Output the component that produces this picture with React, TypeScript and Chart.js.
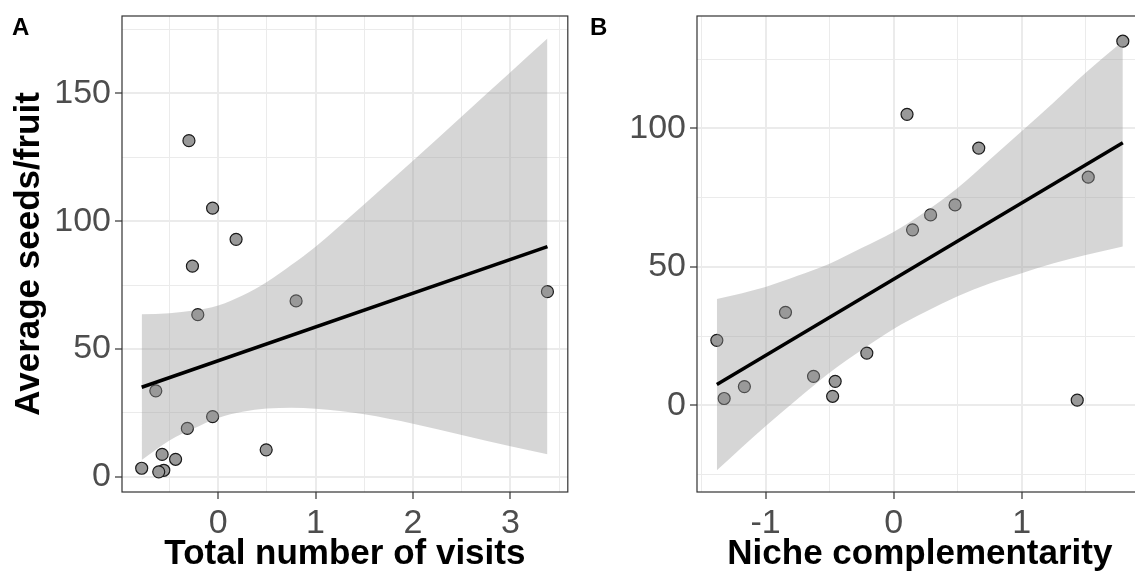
import React, { useEffect, useRef } from 'react';
import { Chart, registerables } from 'chart.js';

Chart.register(...registerables);

const FONT = "'Liberation Sans', Arial, Helvetica, sans-serif";

// ---- data ----
const seeds = [131.5, 105.1, 92.9, 82.4, 68.8, 72.4, 63.4, 33.6, 23.5, 18.9, 10.5, 8.7, 6.8, 3.3, 2.5, 1.9];
const visits = [-0.3, -0.057, 0.184, -0.264, 0.8, 3.38, -0.209, -0.64, -0.057, -0.316, 0.493, -0.575, -0.437, -0.785, -0.558, -0.61];
const niche = [1.79, 0.105, 0.665, 1.52, 0.289, 0.48, 0.148, -0.844, -1.38, -0.209, -0.625, -0.456, -1.165, -0.476, -1.323, 1.434];

const fitXA = [-0.785, 3.38];
const fitYA = [35.0, 90.0];
const ribbonXA = [-0.785, -0.5, -0.25, 0, 0.25, 0.5, 0.75, 1, 1.5, 2, 2.5, 3, 3.38];
const upperA = [63.6, 64.0, 65.0, 67.0, 70.9, 76.2, 82.8, 90.0, 106.6, 123.6, 141.0, 158.3, 171.5];
const lowerA = [6.5, 14.2, 18.9, 23.0, 25.4, 26.7, 27.0, 26.6, 24.4, 20.7, 16.3, 11.9, 8.8];

const fitXB = [-1.38, 1.79];
const fitYB = [7.6, 94.8];
const ribbonXB = [-1.38, -1, -0.75, -0.5, -0.25, 0, 0.25, 0.5, 0.75, 1, 1.25, 1.5, 1.79];
const upperB = [38.4, 42.8, 46.8, 51.2, 56.8, 62.6, 70.0, 78.5, 88.7, 99.0, 109.4, 120.1, 131.5];
const lowerB = [-23.4, -7.5, 2.3, 11.8, 20.0, 27.6, 33.8, 39.4, 44.0, 47.7, 51.3, 54.3, 57.4];

const xMajorA = [0, 1, 2, 3];
const xMinorA = [-0.5, 0.5, 1.5, 2.5, 3.5];
const yMajorA = [0, 50, 100, 150];
const yMinorA = [25, 75, 125, 175];
const xMajorB = [-1, 0, 1];
const xMinorB = [-1.5, -0.5, 0.5, 1.5];
const yMajorB = [0, 50, 100];
const yMinorB = [-25, 25, 75, 125];

const xTitleA = 'Total number of visits';
const yTitleA = 'Average seeds/fruit';
const xTitleB = 'Niche complementarity';

const xy = (xs: number[], ys: number[]) => xs.map((x, i) => ({ x, y: ys[i] }));

const borderPlugin = {
  id: 'panelBorder',
  afterDatasetsDraw(chart: any) {
    const { ctx, chartArea } = chart;
    const { left, top, right, bottom } = chartArea;
    ctx.save();
    ctx.strokeStyle = '#333333';
    ctx.lineWidth = 1.2;
    ctx.strokeRect(left, top, right - left, bottom - top);
    ctx.restore();
  },
};

function axis(o: {
  min: number; max: number; major: number[]; minor: number[]; isX: boolean; size: number;
  title?: string; titlePad?: number;
}) {
  const isMajor = (v: number) => o.major.some((m) => Math.abs(m - v) < 1e-9);
  return {
    type: 'linear',
    position: o.isX ? 'bottom' : 'left',
    min: o.min,
    max: o.max,
    afterBuildTicks: (s: any) => {
      s.ticks = [...o.major, ...o.minor]
        .filter((v) => v >= o.min && v <= o.max)
        .sort((a, b) => a - b)
        .map((v) => ({ value: v }));
    },
    afterFit: (s: any) => {
      if (o.isX) s.height = o.size;
      else s.width = o.size;
      s.paddingTop = 0;
      s.paddingBottom = 0;
      s.paddingLeft = 0;
      s.paddingRight = 0;
    },
    grid: {
      color: '#EBEBEB',
      lineWidth: (c: any) => (c.tick && isMajor(c.tick.value) ? 2 : 1),
      tickColor: (c: any) => (c.tick && isMajor(c.tick.value) ? '#333333' : 'rgba(0,0,0,0)'),
      tickLength: 7,
      tickWidth: 1.2,
      drawTicks: true,
    },
    border: { display: false },
    ticks: {
      autoSkip: false,
      maxRotation: 0,
      minRotation: 0,
      padding: 4,
      color: '#4D4D4D',
      font: { family: FONT, size: 34 },
      callback: (v: number) => (isMajor(v) ? String(v) : ''),
    },
    title: o.title
      ? {
          display: true,
          text: o.title,
          color: '#000000',
          font: { family: FONT, size: 35, weight: 'bold' },
          padding: { top: o.titlePad ?? 0, bottom: o.titlePad ?? 0 },
        }
      : { display: false },
  };
}

function datasets(px: number[], fitX: number[], fitY: number[], rx: number[], up: number[], lo: number[]) {
  return [
    {
      type: 'line',
      data: xy(fitX, fitY),
      borderColor: '#000000',
      borderWidth: 3.5,
      pointRadius: 0,
      fill: false,
      order: 0,
    },
    {
      type: 'line',
      data: xy(rx, up),
      borderColor: 'rgba(0,0,0,0)',
      borderWidth: 0,
      pointRadius: 0,
      fill: '+1',
      backgroundColor: 'rgba(153,153,153,0.4)',
      cubicInterpolationMode: 'monotone',
      order: 1,
    },
    {
      type: 'line',
      data: xy(rx, lo),
      borderColor: 'rgba(0,0,0,0)',
      borderWidth: 0,
      pointRadius: 0,
      fill: false,
      cubicInterpolationMode: 'monotone',
      order: 1,
    },
    {
      type: 'scatter',
      data: xy(px, seeds),
      pointRadius: 6,
      backgroundColor: '#999999',
      borderColor: '#1A1A1A',
      borderWidth: 1.2,
      order: 2,
    },
  ];
}

function Panel(props: { config: any }) {
  const ref = useRef<HTMLCanvasElement>(null);
  useEffect(() => {
    const chart = new Chart(ref.current as HTMLCanvasElement, props.config);
    return () => chart.destroy();
  }, []);
  return <canvas ref={ref} width={575} height={575} style={{ display: 'block' }} />;
}

const commonOpts = (padRight: number) => ({
  responsive: false,
  animation: false,
  devicePixelRatio: 1,
  layout: { padding: { left: 0, top: 16, right: padRight, bottom: 0 } },
  plugins: { legend: { display: false }, tooltip: { enabled: false } },
  events: [],
});

const configA = {
  type: 'scatter',
  data: { datasets: datasets(visits, fitXA, fitYA, ribbonXA, upperA, lowerA) },
  options: {
    ...commonOpts(6),
    scales: {
      x: axis({ min: -0.987, max: 3.589, major: xMajorA, minor: xMinorA, isX: true, size: 83, title: xTitleA, titlePad: 0 }),
      y: axis({ min: -6.0, max: 180.3, major: yMajorA, minor: yMinorA, isX: false, size: 122, title: yTitleA, titlePad: 8 }),
    },
  },
  plugins: [borderPlugin],
};

const configB = {
  type: 'scatter',
  data: { datasets: datasets(niche, fitXB, fitYB, ribbonXB, upperB, lowerB) },
  options: {
    ...commonOpts(6),
    scales: {
      x: axis({ min: -1.535, max: 1.946, major: xMajorB, minor: xMinorB, isX: true, size: 83, title: xTitleB, titlePad: 0 }),
      y: axis({ min: -31.25, max: 140.6, major: yMajorB, minor: yMinorB, isX: false, size: 122 }),
    },
  },
  plugins: [borderPlugin],
};

const labelStyle: React.CSSProperties = {
  position: 'absolute',
  fontFamily: FONT,
  fontWeight: 'bold',
  fontSize: 24,
  lineHeight: '24px',
  color: '#000',
};

export default function App() {
  return (
    <div style={{ position: 'fixed', left: 0, top: 0, width: 1135, height: 575, overflow: 'hidden', background: '#ffffff' }}>
      <div style={{ position: 'absolute', left: 0, top: 0, width: 575, height: 575 }}>
        <Panel config={configA} />
      </div>
      <div style={{ position: 'absolute', left: 575, top: 0, width: 575, height: 575 }}>
        <Panel config={configB} />
      </div>
      <span style={{ ...labelStyle, left: 12, top: 15 }}>A</span>
      <span style={{ ...labelStyle, left: 590, top: 15 }}>B</span>
    </div>
  );
}
